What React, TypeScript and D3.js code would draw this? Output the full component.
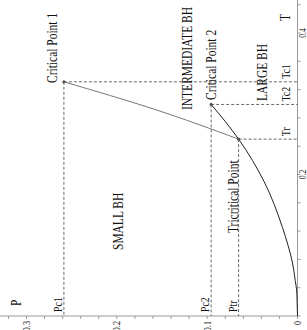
import React from "react";
import * as d3 from "d3";

// T runs up the right-hand side, P runs leftwards along the bottom (chart is turned 90°)
const T_TICKS = [0, 0.04, 0.08, 0.12, 0.16, 0.2, 0.24, 0.28, 0.32, 0.36, 0.4, 0.44];
const T_LABELS = [0, 0.2, 0.4];
const P_TICKS = [0, 0.02, 0.04, 0.06, 0.08, 0.1, 0.12, 0.14, 0.16, 0.18, 0.2, 0.22, 0.24, 0.26, 0.28, 0.3, 0.32];
const P_LABELS = [0, 0.1, 0.2, 0.3];

// special points [T, P]
const POINT_NAMES = ["Critical Point 1", "Critical Point 2", "Tricritical Point"];
const POINT_T = [0.331, 0.299, 0.25];
const POINT_P = [0.2586, 0.0956, 0.0652];
const T_MARKS = ["Tc1", "Tc2", "Tr"];
const P_MARKS = ["Pc1", "Pc2", "Ptr"];

// small/large coexistence line (from critical point 1 to the tricritical point)
const SL_T = [0.331, 0.292, 0.25];
const SL_P = [0.2586, 0.158, 0.0652];

// intermediate/large line, from critical point 2 down to the origin
const IL_T = [0.299, 0.275, 0.25, 0.19, 0.125, 0.1, 0.075, 0.05, 0.037, 0.023, 0];
const IL_P = [0.0956, 0.08, 0.0652, 0.037, 0.0166, 0.0105, 0.0055, 0.0025, 0.001, 0.0005, 0];

const REGIONS = ["SMALL BH", "INTERMEDIATE BH", "LARGE BH"];

const W = 307;
const H = 330;

const t = d3.scaleLinear().domain([0, 0.4]).range([316, 33]);
const p = d3.scaleLinear().domain([0, 0.3]).range([297.5, 26.5]);

const serif = "'Liberation Serif', 'Times New Roman', serif";

function VText(props: { x: number; y: number; size: number; anchor?: string; children: React.ReactNode }) {
  return (
    <text
      transform={`translate(${props.x},${props.y}) rotate(-90) scale(0.82,1)`}
      fontFamily={serif}
      fontSize={props.size}
      textAnchor={props.anchor || "start"}
      fill="#111"
    >
      {props.children}
    </text>
  );
}

export default function App() {
  const line = d3
    .line<[number, number]>()
    .x((d) => p(d[1]))
    .y((d) => t(d[0]))
    .curve(d3.curveMonotoneY);

  const slData = SL_T.map((v, i) => [v, SL_P[i]] as [number, number]);
  const ilData = IL_T.map((v, i) => [v, IL_P[i]] as [number, number]);

  const x0 = p(0);
  const y0 = t(0);

  return (
    <div style={{ position: "absolute", left: 0, top: 0, width: W, height: H, background: "#fff" }}>
      <svg width={W} height={H} style={{ display: "block" }}>
        {/* axes */}
        <line x1={0} x2={x0} y1={y0} y2={y0} stroke="#999" strokeWidth={1} />
        <line x1={x0} x2={x0} y1={y0} y2={0} stroke="#999" strokeWidth={1} />
        {P_TICKS.map((v) => (
          <line key={"pt" + v} x1={p(v)} x2={p(v)} y1={y0} y2={y0 + 3} stroke="#999" />
        ))}
        {T_TICKS.map((v) => (
          <line key={"tt" + v} x1={x0} x2={x0 + 3} y1={t(v)} y2={t(v)} stroke="#999" />
        ))}
        {P_LABELS.map((v) => (
          <VText key={"pl" + v} x={p(v) + 3.5} y={y0 + 5} size={10} anchor="end">
            {String(v)}
          </VText>
        ))}
        {T_LABELS.filter((v) => v > 0).map((v) => (
          <VText key={"tl" + v} x={x0 + 8.5} y={t(v)} size={9.5} anchor="middle">
            {String(v)}
          </VText>
        ))}

        {/* dashed guides */}
        {POINT_T.map((v, i) => (
          <g key={"g" + i} stroke="#444" strokeWidth={0.8} strokeDasharray="3,2">
            <line x1={p(POINT_P[i])} x2={x0} y1={t(v)} y2={t(v)} />
            <line x1={p(POINT_P[i])} x2={p(POINT_P[i])} y1={t(v)} y2={y0} />
          </g>
        ))}

        {/* curves */}
        <path d={line(slData) || ""} fill="none" stroke="#777" strokeWidth={1} />
        <path d={line(ilData) || ""} fill="none" stroke="#222" strokeWidth={1} />

        {POINT_T.map((v, i) => (
          <circle key={"c" + i} cx={p(POINT_P[i])} cy={t(v)} r={1.6} fill="#555" />
        ))}

        {/* labels */}
        <VText x={57} y={83} size={14}>{POINT_NAMES[0]}</VText>
        <VText x={216} y={100} size={14}>{POINT_NAMES[1]}</VText>
        <VText x={238} y={233} size={14}>{POINT_NAMES[2]}</VText>
        <VText x={123} y={250} size={14}>{REGIONS[0]}</VText>
        <VText x={192} y={110} size={14}>{REGIONS[1]}</VText>
        <VText x={267} y={101} size={14}>{REGIONS[2]}</VText>

        {T_MARKS.map((m, i) => (
          <VText key={m} x={290} y={t(POINT_T[i]) - 3} size={12}>{m}</VText>
        ))}
        {P_MARKS.map((m, i) => (
          <VText key={m} x={p(POINT_P[i]) - 2} y={312} size={12}>{m}</VText>
        ))}
        <VText x={290} y={21} size={14}>T</VText>
        <VText x={21} y={306} size={14}>P</VText>
      </svg>
    </div>
  );
}
